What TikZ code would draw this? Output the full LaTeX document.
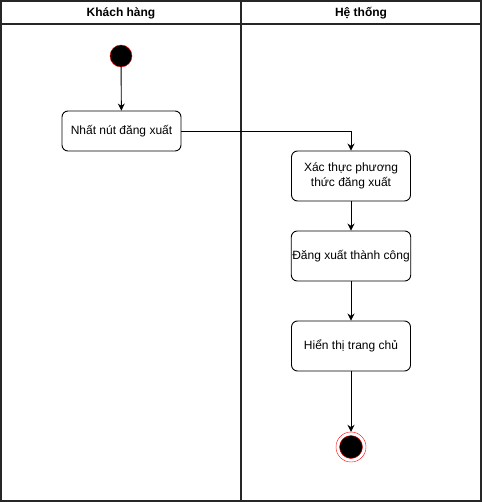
\documentclass[tikz,border=0pt]{standalone}
\usepackage{fontspec}
\setmainfont{Liberation Sans}
\usetikzlibrary{arrows.meta, positioning}

\begin{document}
\begin{tikzpicture}[x=1pt, y=-1pt, font=\fontsize{12}{15}\selectfont,
    lane/.style={line width=1.6pt, black!85},
    lanetitle/.style={font=\fontsize{12}{15}\selectfont\bfseries},
    action/.style={draw, line width=0.9pt, rounded corners=6pt, minimum width=119pt, minimum height=40pt, align=center, inner sep=1pt},
    startdot/.style={circle, draw=red, fill=black, minimum size=22pt, inner sep=0pt},
    endring/.style={circle, draw=red, fill=white, minimum size=30pt, inner sep=0pt},
    enddot/.style={circle, draw=red, fill=black, minimum size=23pt, inner sep=0pt},
    flow/.style={-{Stealth[length=7pt, width=7pt]}, line width=0.9pt}]
  \useasboundingbox (0,0) rectangle (482,502);

  % swimlanes
  \draw [lane] (1,1) rectangle (481,501); % Draws the frame
  \draw [lane] (1,24) -- (481,24);
  \draw [lane] (241,1) -- (241,501);
  \node [lanetitle] (laneKH) at (121,13) {Khách hàng};
  \node [lanetitle] (laneHT) at (361,13) {Hệ thống};

  % nodes
  \node [startdot] (start) at (121,56) {};
  \node [action, minimum height=40pt] (nhat) at (121.5,131) {Nhất nút đăng xuất};
  \node [action, minimum height=50pt] (xacthuc) at (351,176) {Xác thực phương\\thức đăng xuất};
  \node [action, minimum height=50pt] (dangxuat) at (351,256) {Đăng xuất thành công};
  \node [action, minimum height=50pt] (hienthi) at (351,346) {Hiển thị trang chủ};
  \node [endring] (stop) at (351,447) {};
  \node [enddot] (stopdot) at (stop) {};

  % flows
  \draw [flow] (start) -- (nhat);
  \draw [flow] (nhat.east) -| (xacthuc.north);
  \draw [flow] (xacthuc) -- (dangxuat);
  \draw [flow] (dangxuat) -- (hienthi);
  \draw [flow] (hienthi) -- (stop);
\end{tikzpicture}
\end{document}
